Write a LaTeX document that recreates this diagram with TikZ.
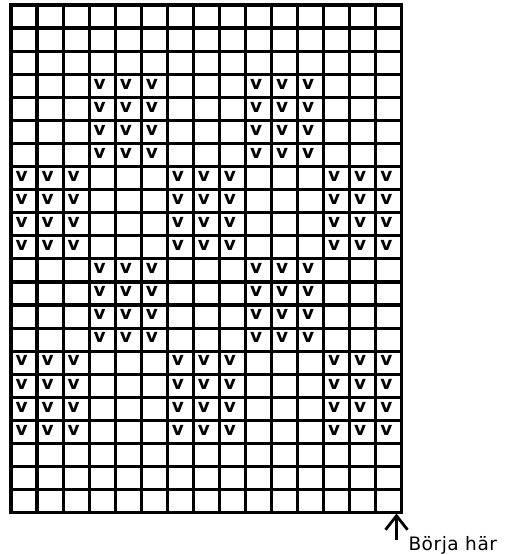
\documentclass[tikz,border=0pt]{standalone}
\usepackage{fontspec}
\usetikzlibrary{arrows.meta}
\newfontfamily\vfont{DejaVu Sans Bold}
\newfontfamily\labelfont[LetterSpace=3]{DejaVu Sans}
\tikzset{
  gridline/.style={line width=3.2pt, black, line cap=rect},
  vmark/.style={inner sep=0pt, font=\vfont\fontsize{18.5}{18.5}\selectfont},
  startlabel/.style={inner sep=0pt, anchor=base west, font=\labelfont\fontsize{18.5}{19}\selectfont},
  startarrow/.style={line width=2.8pt, -{Straight Barb[length=14pt,width=22pt]}}
}
\begin{document}
\begin{tikzpicture}[x=1pt,y=1pt]
\useasboundingbox (0,0) rectangle (505,555);
\def\cw{26.05}
\def\ch{23.08}
% grid
\foreach \i in {0,...,15}
  \draw[gridline] ({11+\i*\cw},550) -- ({11+\i*\cw},42.3);
\foreach \j in {0,...,22}
  \draw[gridline] (11,{550-\j*\ch}) -- (401.75,{550-\j*\ch});
% v marks
\foreach \r in {4,...,7,12,13,14,15}
  \foreach \c in {4,5,6,10,11,12}
    \node[vmark] (v-\r-\c) at ({11+(\c-0.5)*\cw-2.4},{550-(\r-0.5)*\ch+1.8}) {v};
\foreach \r in {8,...,11,16,17,18,19}
  \foreach \c in {1,2,3,7,8,9,13,14,15}
    \node[vmark] (v-\r-\c) at ({11+(\c-0.5)*\cw-2.4},{550-(\r-0.5)*\ch+1.8}) {v};
% start marker
\coordinate (arrowtail) at (396.5,15);
\coordinate (arrowhead) at (396.5,41.5);
\draw[startarrow] (arrowtail) -- (arrowhead);
\node[startlabel] (start) at (408.3,4.3) {Börja här};
\end{tikzpicture}
\end{document}
